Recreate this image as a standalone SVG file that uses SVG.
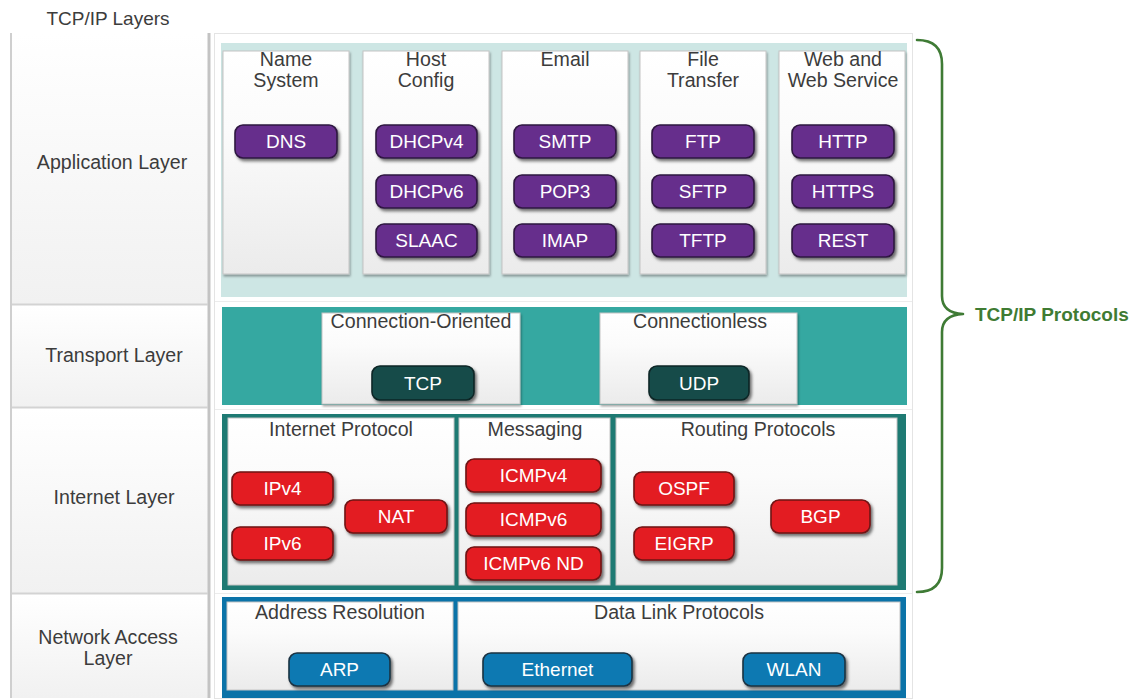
<svg xmlns="http://www.w3.org/2000/svg" width="1132" height="700" viewBox="0 0 1132 700">
<defs>
  <linearGradient id="gCard" x1="0" y1="0" x2="0" y2="1">
    <stop offset="0" stop-color="#ffffff"/>
    <stop offset="0.35" stop-color="#fbfbfb"/>
    <stop offset="1" stop-color="#ebebeb"/>
  </linearGradient>
  <linearGradient id="gLeft" x1="0" y1="0" x2="0" y2="1">
    <stop offset="0" stop-color="#ffffff"/>
    <stop offset="1" stop-color="#f1f1f1"/>
  </linearGradient>
  <filter id="shPill" x="-10%" y="-20%" width="125%" height="150%">
    <feDropShadow dx="2" dy="2.5" stdDeviation="1.6" flood-color="#000" flood-opacity="0.55"/>
  </filter>
  <filter id="shCard" x="-5%" y="-5%" width="115%" height="115%">
    <feDropShadow dx="1" dy="2" stdDeviation="1.2" flood-color="#000" flood-opacity="0.35"/>
  </filter>
</defs>
<style>
  text { font-family: "Liberation Sans", Arial, sans-serif; }
  .lbl { font-size: 19.6px; fill: #3c3c3c; text-anchor: middle; }
  .hdr { font-size: 19px; fill: #3c3c3c; text-anchor: middle; }
  .pt { font-size: 19px; fill: #ffffff; text-anchor: middle; }
  .card { fill: url(#gCard); stroke: #c4c4c4; stroke-width: 1; filter: url(#shCard); }
  .flat { filter: none; }
  .cell { fill: url(#gLeft); stroke: none; }
  .pill { stroke-width: 1.6; filter: url(#shPill); }
  .pur { fill: #662d8c; stroke: #2e1840; }
  .dtl { fill: #184b4a; stroke: #0d2626; }
  .red { fill: #e31c23; stroke: #6e1414; }
  .blu { fill: #0b79b2; stroke: #1d3342; }
  .brace { fill: none; stroke: #3f7b35; stroke-width: 2.6; stroke-linecap: round; stroke-linejoin: round; }
</style>

<text class="hdr" x="108" y="25">TCP/IP Layers</text>

<g id="layers-column">
  <rect x="10" y="33" width="200" height="665" fill="#ffffff"/>
  <rect class="cell" x="12" y="33" width="196" height="271"/>
  <rect class="cell" x="12" y="305" width="196" height="102"/>
  <rect class="cell" x="12" y="408" width="196" height="185"/>
  <rect class="cell" x="12" y="594" width="196" height="104"/>
  <line x1="11" y1="33" x2="11" y2="698" stroke="#cfcfcf" stroke-width="2"/>
  <line x1="209" y1="33" x2="209" y2="698" stroke="#c3c3c3" stroke-width="3"/>
  <line x1="12" y1="304.5" x2="208" y2="304.5" stroke="#d3d3d3" stroke-width="2"/>
  <line x1="12" y1="407.5" x2="208" y2="407.5" stroke="#d3d3d3" stroke-width="2"/>
  <line x1="12" y1="593.5" x2="208" y2="593.5" stroke="#d3d3d3" stroke-width="2"/>
  <text class="lbl" x="112" y="169">Application Layer</text>
  <text class="lbl" x="114" y="362">Transport Layer</text>
  <text class="lbl" x="114" y="504">Internet Layer</text>
  <text class="lbl" x="108" y="644">Network Access</text>
  <text class="lbl" x="108" y="665">Layer</text>
</g>

<g id="protocols-panel">
  <rect x="214.5" y="33.5" width="698" height="665" fill="#ffffff" stroke="#e4e4e4" stroke-width="1"/>
  <line x1="215" y1="301.5" x2="912" y2="301.5" stroke="#ececec" stroke-width="1"/>
  <line x1="215" y1="409.5" x2="912" y2="409.5" stroke="#ececec" stroke-width="1"/>
  <line x1="215" y1="593.5" x2="912" y2="593.5" stroke="#ececec" stroke-width="1"/>
</g>

<g id="application-layer">
  <rect x="221" y="43" width="686" height="254" fill="#cde6e4"/>
  <g id="name-system">
    <rect class="card" x="223" y="51" width="126" height="223"/>
    <text class="lbl" x="286" y="66">Name</text>
    <text class="lbl" x="286" y="87">System</text>
    <rect class="pill pur" x="235" y="125" width="102" height="33" rx="8"/>
    <text class="pt" x="286" y="147.5">DNS</text>
  </g>
  <g id="host-config">
    <rect class="card" x="363" y="51" width="126" height="223"/>
    <text class="lbl" x="426" y="66">Host</text>
    <text class="lbl" x="426" y="87">Config</text>
    <rect class="pill pur" x="376" y="125" width="101" height="33" rx="8"/>
    <text class="pt" x="426.5" y="147.5">DHCPv4</text>
    <rect class="pill pur" x="376" y="175" width="101" height="33" rx="8"/>
    <text class="pt" x="426.5" y="197.5">DHCPv6</text>
    <rect class="pill pur" x="376" y="224" width="101" height="33" rx="8"/>
    <text class="pt" x="426.5" y="246.5">SLAAC</text>
  </g>
  <g id="email">
    <rect class="card" x="502" y="51" width="126" height="223"/>
    <text class="lbl" x="565" y="66">Email</text>
    <rect class="pill pur" x="514" y="125" width="102" height="33" rx="8"/>
    <text class="pt" x="565" y="147.5">SMTP</text>
    <rect class="pill pur" x="514" y="175" width="102" height="33" rx="8"/>
    <text class="pt" x="565" y="197.5">POP3</text>
    <rect class="pill pur" x="514" y="224" width="102" height="33" rx="8"/>
    <text class="pt" x="565" y="246.5">IMAP</text>
  </g>
  <g id="file-transfer">
    <rect class="card" x="640" y="51" width="126" height="223"/>
    <text class="lbl" x="703" y="66">File</text>
    <text class="lbl" x="703" y="87">Transfer</text>
    <rect class="pill pur" x="652" y="125" width="102" height="33" rx="8"/>
    <text class="pt" x="703" y="147.5">FTP</text>
    <rect class="pill pur" x="652" y="175" width="102" height="33" rx="8"/>
    <text class="pt" x="703" y="197.5">SFTP</text>
    <rect class="pill pur" x="652" y="224" width="102" height="33" rx="8"/>
    <text class="pt" x="703" y="246.5">TFTP</text>
  </g>
  <g id="web-service">
    <rect class="card" x="779" y="51" width="126" height="223"/>
    <text class="lbl" x="843" y="66">Web and</text>
    <text class="lbl" x="843" y="87">Web Service</text>
    <rect class="pill pur" x="792" y="125" width="102" height="33" rx="8"/>
    <text class="pt" x="843" y="147.5">HTTP</text>
    <rect class="pill pur" x="792" y="175" width="102" height="33" rx="8"/>
    <text class="pt" x="843" y="197.5">HTTPS</text>
    <rect class="pill pur" x="792" y="224" width="102" height="33" rx="8"/>
    <text class="pt" x="843" y="246.5">REST</text>
  </g>
</g>

<g id="transport-layer">
  <rect x="222" y="307" width="685" height="98" fill="#35a8a1"/>
  <g id="connection-oriented">
    <rect class="card" x="322" y="313" width="198" height="91"/>
    <text class="lbl" x="421" y="328">Connection-Oriented</text>
    <rect class="pill dtl" x="372" y="366" width="102" height="34" rx="8"/>
    <text class="pt" x="423" y="389.5">TCP</text>
  </g>
  <g id="connectionless">
    <rect class="card" x="600" y="313" width="197" height="91"/>
    <text class="lbl" x="700" y="328">Connectionless</text>
    <rect class="pill dtl" x="649" y="366" width="100" height="34" rx="8"/>
    <text class="pt" x="699" y="389.5">UDP</text>
  </g>
</g>

<g id="internet-layer">
  <rect x="222" y="414" width="684" height="176" fill="#1e7a73"/>
  <g id="internet-protocol">
    <rect class="card flat" x="228" y="418" width="226" height="167"/>
    <text class="lbl" x="341" y="436">Internet Protocol</text>
    <rect class="pill red" x="232" y="472" width="101" height="33" rx="8"/>
    <text class="pt" x="282.5" y="494.5">IPv4</text>
    <rect class="pill red" x="232" y="527" width="101" height="33" rx="8"/>
    <text class="pt" x="282.5" y="549.5">IPv6</text>
    <rect class="pill red" x="345" y="500" width="102" height="33" rx="8"/>
    <text class="pt" x="396" y="522.5">NAT</text>
  </g>
  <g id="messaging">
    <rect class="card flat" x="459" y="418" width="151" height="167"/>
    <text class="lbl" x="535" y="436">Messaging</text>
    <rect class="pill red" x="466" y="459" width="135" height="33" rx="8"/>
    <text class="pt" x="533.5" y="481.5">ICMPv4</text>
    <rect class="pill red" x="466" y="503" width="135" height="33" rx="8"/>
    <text class="pt" x="533.5" y="525.5">ICMPv6</text>
    <rect class="pill red" x="466" y="547" width="135" height="33" rx="8"/>
    <text class="pt" x="533.5" y="569.5">ICMPv6 ND</text>
  </g>
  <g id="routing-protocols">
    <rect class="card flat" x="616" y="418" width="281" height="167"/>
    <text class="lbl" x="758" y="436">Routing Protocols</text>
    <rect class="pill red" x="634" y="472" width="100" height="33" rx="8"/>
    <text class="pt" x="684" y="494.5">OSPF</text>
    <rect class="pill red" x="634" y="527" width="100" height="33" rx="8"/>
    <text class="pt" x="684" y="549.5">EIGRP</text>
    <rect class="pill red" x="771" y="500" width="99" height="33" rx="8"/>
    <text class="pt" x="820.5" y="522.5">BGP</text>
  </g>
</g>

<g id="network-access-layer">
  <rect x="222" y="597" width="684" height="101" fill="#0b73a8"/>
  <g id="address-resolution">
    <rect class="card flat" x="227" y="602" width="226" height="88"/>
    <text class="lbl" x="340" y="619">Address Resolution</text>
    <rect class="pill blu" x="289" y="653" width="101" height="33" rx="8"/>
    <text class="pt" x="339.5" y="675.5">ARP</text>
  </g>
  <g id="data-link-protocols">
    <rect class="card flat" x="458" y="602" width="442" height="88"/>
    <text class="lbl" x="679" y="619">Data Link Protocols</text>
    <rect class="pill blu" x="483" y="653" width="149" height="33" rx="8"/>
    <text class="pt" x="557.5" y="675.5">Ethernet</text>
    <rect class="pill blu" x="743" y="653" width="102" height="33" rx="8"/>
    <text class="pt" x="794" y="675.5">WLAN</text>
  </g>
</g>

<g id="connectors">
  <path class="brace" d="M917,40 Q942,40 942,64 L942,296 Q942,313 963,314 Q942,315 942,332 L942,568 Q942,592 917,592"/>
</g>
<g id="tcpip-protocols-label">
  <text x="975" y="321" font-size="19" font-weight="bold" fill="#3f7b33">TCP/IP Protocols</text>
</g>
</svg>
